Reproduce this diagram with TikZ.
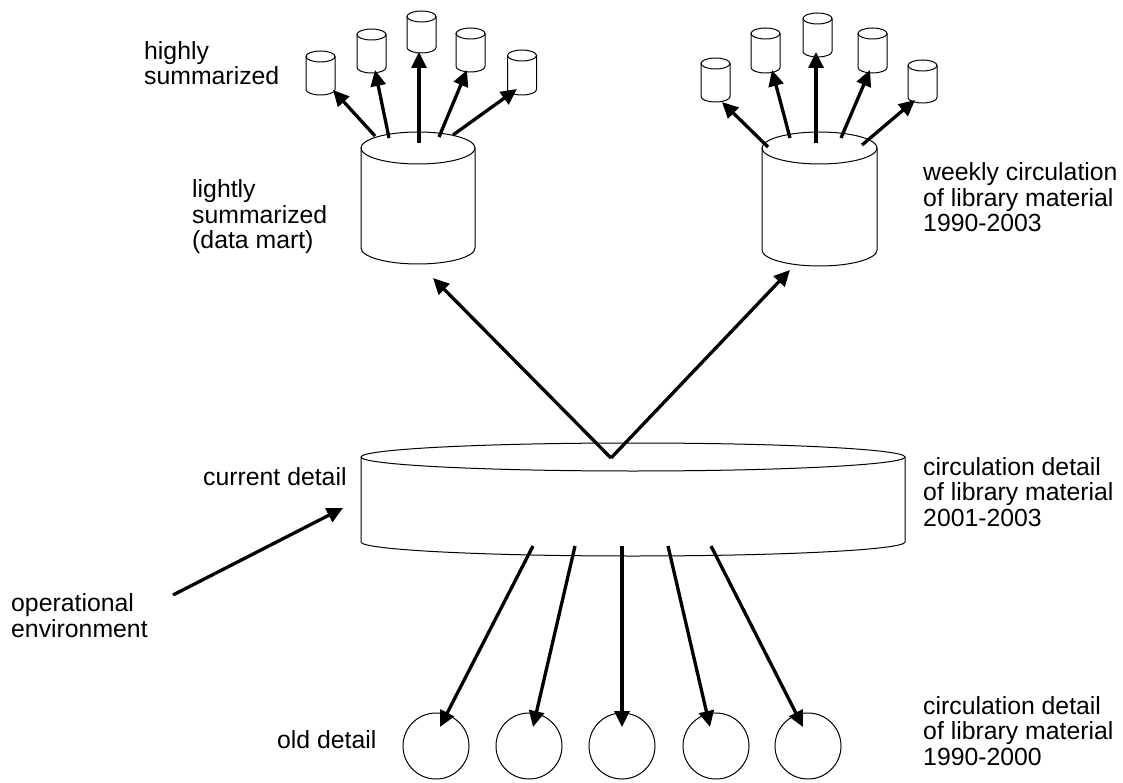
\documentclass[tikz,border=0pt]{standalone}
\usepackage{fontspec}
\setmainfont{Liberation Sans}
\usetikzlibrary{arrows.meta}
% name, cx, top-centre y, rx, ry, body height
\newcommand\dbcyl[6]{%
  \draw[cylline] (#2,#3) ellipse [x radius=#4, y radius=#5];
  \draw[cylline] (#2-#4,#3) -- ++(0,#6) arc[start angle=180, end angle=0, x radius=#4, y radius=#5] -- ++(0,-#6);
  \coordinate (#1) at (#2,#3);
}
\tikzset{
  cylline/.style={line width=1pt, black},
  flow/.style={line width=3.3pt, black, -{Triangle[length=16pt,width=15pt]}},
  lbl/.style={anchor=base west, align=left, inner sep=0pt, font=\fontsize{24.8}{25.5}\selectfont},
}
\begin{document}
\begin{tikzpicture}[x=1pt,y=-1pt]
\useasboundingbox[fill=white] (0,0) rectangle (1123,783);

% big data mart cylinders
\dbcyl{ml}{418}{148}{57}{16}{100}
\dbcyl{mr}{819.5}{148}{57.5}{16}{102}
% small cylinders left group
\dbcyl{l1}{320.5}{56.5}{14.5}{5.5}{33}
\dbcyl{l2}{371.5}{34.5}{14.5}{5.5}{33}
\dbcyl{l3}{421.5}{16.5}{14.5}{5.5}{31}
\dbcyl{l4}{470.5}{33.5}{14.5}{5.5}{33}
\dbcyl{l5}{522}{55.5}{14.5}{5.5}{34}
% small cylinders right group
\dbcyl{r1}{715.5}{63.5}{14.5}{5.5}{33}
\dbcyl{r2}{765.5}{33.5}{14.5}{5.5}{34}
\dbcyl{r3}{817.5}{18.5}{14.5}{5.5}{33}
\dbcyl{r4}{872.5}{33.5}{14.5}{5.5}{34}
\dbcyl{r5}{922.5}{65.5}{14.5}{5.5}{32}
% current detail
\dbcyl{cd}{633}{457}{272}{14}{85}

% old detail circles
\foreach \n/\cx in {1/436,2/529,3/622,4/716,5/808}
  \node[draw, circle, line width=1pt, minimum size=66pt, inner sep=0pt] (o\n) at (\cx,746) {};

% arrow end points
\coordinate (v) at (611,458);
\coordinate (mlb) at (433,278);
\coordinate (mrb) at (790,270);
\coordinate (opS) at (173,595);
\coordinate (opE) at (343,508);
\foreach \n/\sx/\ex in {1/533/440,2/575/533,3/622/622,4/668/710,5/711/803}{
  \coordinate (bs\n) at (\sx,546);
  \coordinate (be\n) at (\ex,727);
}
\coordinate (ls1) at (375,136); \coordinate (le1) at (333,90);
\coordinate (ls2) at (389,138); \coordinate (le2) at (375,70);
\coordinate (ls3) at (419,143); \coordinate (le3) at (419,52);
\coordinate (ls4) at (439,137); \coordinate (le4) at (467,70);
\coordinate (ls5) at (453,135); \coordinate (le5) at (517,89);
\coordinate (rs1) at (768,147); \coordinate (re1) at (722,102);
\coordinate (rs2) at (790,138); \coordinate (re2) at (772,70);
\coordinate (rs3) at (816,143); \coordinate (re3) at (816,52);
\coordinate (rs4) at (841,138); \coordinate (re4) at (870,70);
\coordinate (rs5) at (862,145); \coordinate (re5) at (915,100);

% arrows
\draw[flow] (v) -- (mlb);
\draw[flow] (v) -- (mrb);
\draw[flow] (opS) -- (opE);
\foreach \n in {1,...,5}{
  \draw[flow] (bs\n) -- (be\n);
  \draw[flow] (ls\n) -- (le\n);
  \draw[flow] (rs\n) -- (re\n);
}

% labels (anchor = baseline of the last line)
\node[lbl] (ths) at (144,85) {highly\\summarized};
\node[lbl] (tls) at (192,249) {lightly\\summarized\\(data mart)};
\node[lbl] (twk) at (923,232) {weekly circulation\\of library material\\1990-2003};
\node[lbl] (tcur) at (203,485) {current detail};
\node[lbl] (tcd) at (923,526) {circulation detail\\of library material\\2001-2003};
\node[lbl] (top) at (11,637) {operational\\environment};
\node[lbl] (told) at (277,748) {old detail};
\node[lbl] (tod) at (923,765) {circulation detail\\of library material\\1990-2000};
\end{tikzpicture}
\end{document}
